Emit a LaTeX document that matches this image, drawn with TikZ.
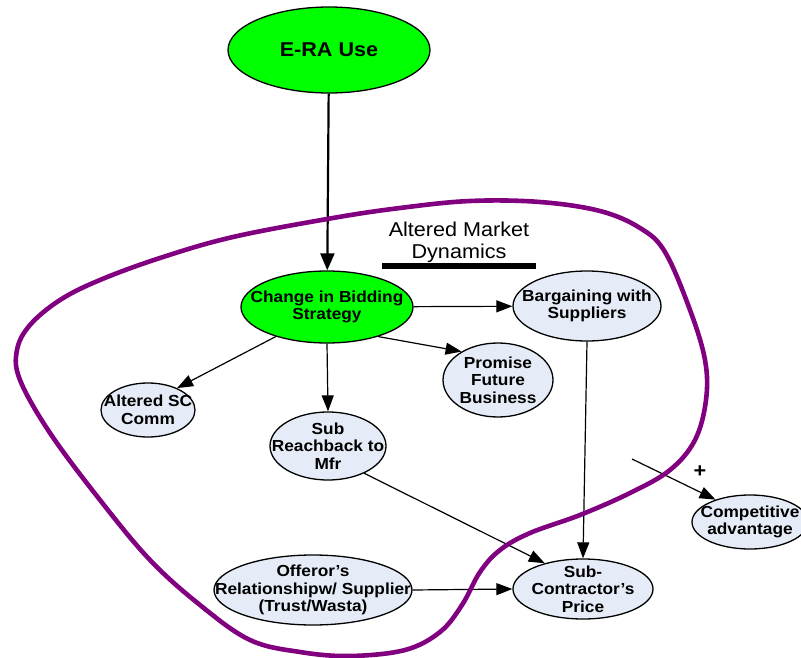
\documentclass[tikz,border=0pt]{standalone}
\usepackage{fontspec}
\setmainfont{Liberation Sans}[FakeStretch=1.08]
\usetikzlibrary{arrows.meta,shapes.geometric}
\definecolor{nodeblue}{RGB}{230,236,247}
\definecolor{brightgreen}{RGB}{0,255,0}
\definecolor{loopcol}{RGB}{128,0,128}
\begin{document}
\begin{tikzpicture}[x=1pt,y=-1pt,
  ell/.style={ellipse, draw=black, line width=1.3pt, inner sep=0pt},
  bluenode/.style={ell, fill=nodeblue},
  greennode/.style={ell, fill=brightgreen},
  txt/.style={font=\bfseries\fontsize{16}{17.5}\selectfont, align=center, inner sep=0pt},
  arr/.style={line width=1.2pt, -{Triangle[length=16pt,width=12pt]}},
  thickarr/.style={line width=2.2pt, -{Triangle[length=17pt,width=14pt]}},
  loopline/.style={draw=loopcol, line width=4.6pt},
]
\useasboundingbox (0,0) rectangle (801,658);

% nodes
\node[greennode, minimum width=202pt, minimum height=86pt,
  label={[txt,font=\bfseries\fontsize{20}{22}\selectfont]center:E-RA Use}] (era) at (329,50) {};
\node[greennode, minimum width=172pt, minimum height=72pt,
  label={[txt]center:Change in Bidding\\Strategy}] (chg) at (327,307) {};
\node[bluenode, minimum width=148pt, minimum height=70pt,
  label={[txt]center:Bargaining with\\Suppliers}] (barg) at (587,306) {};
\node[bluenode, minimum width=110pt, minimum height=74pt,
  label={[txt]center:Promise\\Future\\Business}] (prom) at (498,380) {};
\node[bluenode, minimum width=94pt, minimum height=54pt,
  label={[txt]center:Altered SC\\Comm}] (alt) at (148,410) {};
\node[bluenode, minimum width=116pt, minimum height=68pt,
  label={[txt]center:Sub\\Reachback to\\Mfr}] (reach) at (328,446) {};
\node[bluenode, minimum width=116pt, minimum height=54pt,
  label={[txt]center:Competitive\\advantage}] (comp) at (750,522) {};
\node[bluenode, minimum width=198pt, minimum height=70pt,
  label={[txt]center:Offeror’s\\Relationshipw/ Supplier\\(Trust/Wasta)}] (off) at (313,590) {};
\node[bluenode, minimum width=140pt, minimum height=60pt,
  label={[txt]center:Sub-\\Contractor’s\\Price}] (subc) at (583,589) {};

% title and bar
\node[font=\fontsize{20}{22}\selectfont, align=center, inner sep=0pt] (amd) at (459,242) {Altered Market\\Dynamics};
\fill[black] (382,263) rectangle (536,269);

% connectors
\draw[thickarr] (era) -- (chg);
\draw[arr] (chg) -- (barg);
\draw[arr] (chg.-30) -- (prom.142);
\draw[arr] (chg.210) -- (alt.37);
\draw[arr] (chg.south) -- (reach.north);
\draw[arr] (reach.-37) -- (subc.146);
\draw[arr] (barg.south) -- (subc.north);
\draw[arr] (off.east) -- (subc.west);
\coordinate (free) at (632,459);
\draw[arr] (free) -- (comp.147);
\node[font=\bfseries\fontsize{20}{22}\selectfont, inner sep=0pt] (plus) at (700,472) {+};

% purple loop
\draw[loopline] plot[smooth cycle, tension=0.6] coordinates {
 (333,218) (400,208) (470,201) (540,202) (600,211) (640,228) (665,252)
 (690,310) (705,360) (706,400) (695,440) (670,470) (630,493) (580,515)
 (530,533) (500,550) (480,572) (462,605) (440,632) (405,650) (350,656)
 (300,652) (250,640) (200,605) (150,560) (100,500) (50,433) (20,380)
 (17,350) (30,325) (60,300) (100,280) (160,258) (233,237)};
\end{tikzpicture}
\end{document}
